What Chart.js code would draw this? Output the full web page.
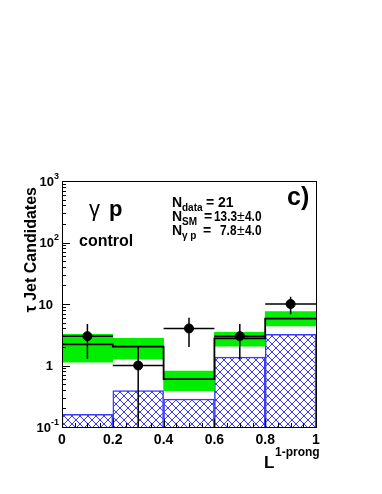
<!DOCTYPE html>
<html>
<head>
<meta charset="utf-8">
<script src="https://cdn.jsdelivr.net/npm/chart.js@4.4.1/dist/chart.umd.min.js"></script>
<style>
body{margin:0;background:#fff}
#wrap{width:382px;height:494px}
</style>
</head>
<body>
<div id="wrap"><canvas id="c"></canvas></div>
<script>
// histogram bins in L(1-prong)
var binEdges = [0, 0.2, 0.4, 0.6, 0.8, 1];
var binCenters = [0.1, 0.3, 0.5, 0.7, 0.9];
// data points and their errors
var dataVals = [3, 1, 4, 3, 10];
var dataErr = [1.73, 1, 2, 1.73, 3.16];
// SM total and its error band
var smVals = [2.2, 2.02, 0.6, 2.77, 5.8];
var smBandLow = [1.13, 1.27, 0.39, 2.07, 4.39];
var smBandHigh = [3.2, 2.77, 0.81, 3.47, 7.5];
// other SM (hatched)
var otherVals = [0.16, 0.39, 0.285, 1.37, 3.2];
// axis ticks
var yTickVals = [0.1, 1, 10, 100, 1000];
var yTickBase = ['10', '1', '10', '10', '10'];
var yTickExp = ['-1', '', '', '2', '3'];
var xTickVals = [0, 0.2, 0.4, 0.6, 0.8, 1];
var xTickLabels = ['0', '0.2', '0.4', '0.6', '0.8', '1'];

var FONT = '"Liberation Sans", Arial, sans-serif';

function hatch(){
  var c = document.createElement('canvas');
  c.width = 8; c.height = 8;
  var g = c.getContext('2d');
  g.fillStyle = '#fff';
  g.fillRect(0,0,8,8);
  g.strokeStyle = '#3a3aff';
  g.lineWidth = 1;
  g.beginPath();
  g.moveTo(-1,-1); g.lineTo(9,9);
  g.moveTo(9,-1); g.lineTo(-1,9);
  g.stroke();
  return g.createPattern(c,'repeat');
}

var stepPts = [];
for (var i = 0; i < binEdges.length; i++) {
  stepPts.push({x: binEdges[i], y: smVals[Math.min(i, smVals.length-1)]});
}
var bandPts = binCenters.map(function(x,i){ return {x:x, y:[smBandLow[i], smBandHigh[i]]} });
var otherPts = binCenters.map(function(x,i){ return {x:x, y:otherVals[i]} });
var dataPts = binCenters.map(function(x,i){ return {x:x, y:dataVals[i]} });

function supText(ctx, base, sup, x, y, size, align){
  ctx.font = 'bold ' + size + 'px ' + FONT;
  var wb = ctx.measureText(base).width;
  ctx.font = 'bold ' + Math.round(size*0.7) + 'px ' + FONT;
  var ws = sup ? ctx.measureText(sup).width : 0;
  var x0 = align === 'right' ? x - wb - ws : (align === 'center' ? x - (wb+ws)/2 : x);
  ctx.textAlign = 'left';
  ctx.font = 'bold ' + size + 'px ' + FONT;
  ctx.fillText(base, x0, y);
  if (sup) {
    ctx.font = 'bold ' + Math.round(size*0.7) + 'px ' + FONT;
    ctx.fillText(sup, x0 + wb, y - size*0.45);
  }
}

var rootAxes = {
  id: 'rootAxes',
  afterDatasetsDraw: function(chart){
    var ctx = chart.ctx, xs = chart.scales.x, ys = chart.scales.y, a = chart.chartArea;
    ctx.save();
    ctx.beginPath();
    ctx.rect(a.left, a.top, a.right-a.left, a.bottom-a.top);
    ctx.clip();
    ctx.strokeStyle = '#000';
    ctx.lineWidth = 1.5;
    for (var i = 0; i < dataVals.length; i++) {
      var px = xs.getPixelForValue(binCenters[i]);
      var py = ys.getPixelForValue(dataVals[i]);
      var lo = dataVals[i] - dataErr[i];
      var pyLo = lo > 0 ? ys.getPixelForValue(lo) : a.bottom;
      var pyHi = ys.getPixelForValue(dataVals[i] + dataErr[i]);
      ctx.beginPath();
      ctx.moveTo(xs.getPixelForValue(binEdges[i]), py);
      ctx.lineTo(xs.getPixelForValue(binEdges[i+1]), py);
      ctx.moveTo(px, pyHi);
      ctx.lineTo(px, pyLo);
      ctx.stroke();
    }
    ctx.restore();
  },
  afterDraw: function(chart){
    var ctx = chart.ctx, xs = chart.scales.x, ys = chart.scales.y, a = chart.chartArea;
    ctx.save();
    ctx.strokeStyle = '#000';
    ctx.lineWidth = 1;
    ctx.strokeRect(Math.round(a.left)+0.5, Math.round(a.top)+0.5, Math.round(a.right-a.left), Math.round(a.bottom-a.top));
    // y ticks (inside)
    ctx.beginPath();
    for (var d = 0.1; d < 1000; d *= 10) {
      for (var m = 1; m < 10; m++) {
        var yy = Math.round(ys.getPixelForValue(d*m)) + 0.5;
        var len = m === 1 ? 8 : 4;
        ctx.moveTo(a.left, yy); ctx.lineTo(a.left + len, yy);
      }
    }
    // x ticks
    for (var k = 0; k <= 20; k++) {
      var xx = Math.round(xs.getPixelForValue(k*0.05)) + 0.5;
      var l2 = k % 4 === 0 ? 8 : 4;
      ctx.moveTo(xx, a.bottom); ctx.lineTo(xx, a.bottom - l2);
    }
    ctx.stroke();
    ctx.fillStyle = '#000';
    ctx.textBaseline = 'middle';
    for (var i = 0; i < yTickVals.length; i++) {
      var ty = ys.getPixelForValue(yTickVals[i]);
      supText(ctx, yTickBase[i], yTickExp[i], yTickExp[i] ? 59 : 53, ty + 1, 13, 'right');
    }
    ctx.textBaseline = 'alphabetic';
    for (var j = 0; j < xTickVals.length; j++) {
      supText(ctx, xTickLabels[j], '', xs.getPixelForValue(xTickVals[j]), 444, 14, 'center');
    }
    // x title
    supText(ctx, 'L', '', 264, 468, 17, 'left');
    ctx.font = 'bold 12px ' + FONT;
    ctx.fillText('1-prong', 275, 456);
    // y title
    ctx.save();
    ctx.translate(36, 187);
    ctx.rotate(-Math.PI/2);
    ctx.textAlign = 'right';
    ctx.font = 'bold 16px ' + FONT;
    ctx.fillText('\u03c4 Jet Candidates', 0, 0);
    ctx.restore();
    // annotations
    ctx.textAlign = 'left';
    ctx.font = '22px ' + FONT;
    ctx.fillText('\u03b3', 89, 216);
    ctx.font = 'bold 22px ' + FONT;
    ctx.fillText('p', 109, 216);
    ctx.font = 'bold 16px ' + FONT;
    ctx.fillText('control', 79, 246);
    var subs = ['data', 'SM', '\u03b3 p'];
    var base = [207, 221, 235];
    var eqX = [206, 204, 203];
    for (var n = 0; n < subs.length; n++) {
      ctx.font = 'bold 14px ' + FONT;
      ctx.fillText('N', 172, base[n]);
      ctx.font = 'bold 10px ' + FONT;
      ctx.fillText(subs[n], 182, base[n] + 4);
      ctx.font = 'bold 14px ' + FONT;
      ctx.fillText('=', eqX[n], base[n]);
    }
    ctx.fillText('21', 218, base[0]);
    ctx.fillText('13.3', 214, base[1], 23);
    ctx.fillText('7.8', 220, base[2], 16.5);
    ctx.fillText('4.0', 245, base[1], 16.5);
    ctx.fillText('4.0', 245, base[2], 16.5);
    ctx.font = '14px ' + FONT;
    ctx.fillText('\u00b1', 237, base[1], 8);
    ctx.fillText('\u00b1', 237, base[2], 8);
    ctx.font = 'bold 25px ' + FONT;
    ctx.fillText('c)', 287, 205);
    ctx.restore();
  }
};

new Chart(document.getElementById('c'), {
  type: 'bar',
  data: {
    datasets: [{
      type: 'scatter',
      data: dataPts,
      pointRadius: 4.5,
      pointBackgroundColor: '#000',
      pointBorderColor: '#000',
      order: 0
    }, {
      type: 'line',
      data: stepPts,
      stepped: 'before',
      borderColor: '#000',
      borderWidth: 1.8,
      pointRadius: 0,
      fill: false,
      order: 1
    }, {
      type: 'bar',
      data: bandPts,
      backgroundColor: '#00ee00',
      borderWidth: 0,
      barPercentage: 1,
      categoryPercentage: 1,
      grouped: false,
      order: 2
    }, {
      type: 'bar',
      data: otherPts,
      backgroundColor: hatch(),
      borderColor: '#3a3aff',
      borderWidth: {top: 1.5, left: 1.5, right: 1.5, bottom: 0},
      barPercentage: 1,
      categoryPercentage: 1,
      grouped: false,
      order: 3
    }]
  },
  options: {
    responsive: true,
    maintainAspectRatio: false,
    animation: false,
    layout: {padding: {left: 62, top: 181, right: 66, bottom: 67}},
    plugins: {legend: {display: false}, tooltip: {enabled: false}},
    scales: {
      x: {type: 'linear', min: 0, max: 1, offset: false, display: false},
      y: {type: 'logarithmic', min: 0.1, max: 1000, display: false}
    }
  },
  plugins: [rootAxes]
});
</script>
</body>
</html>
